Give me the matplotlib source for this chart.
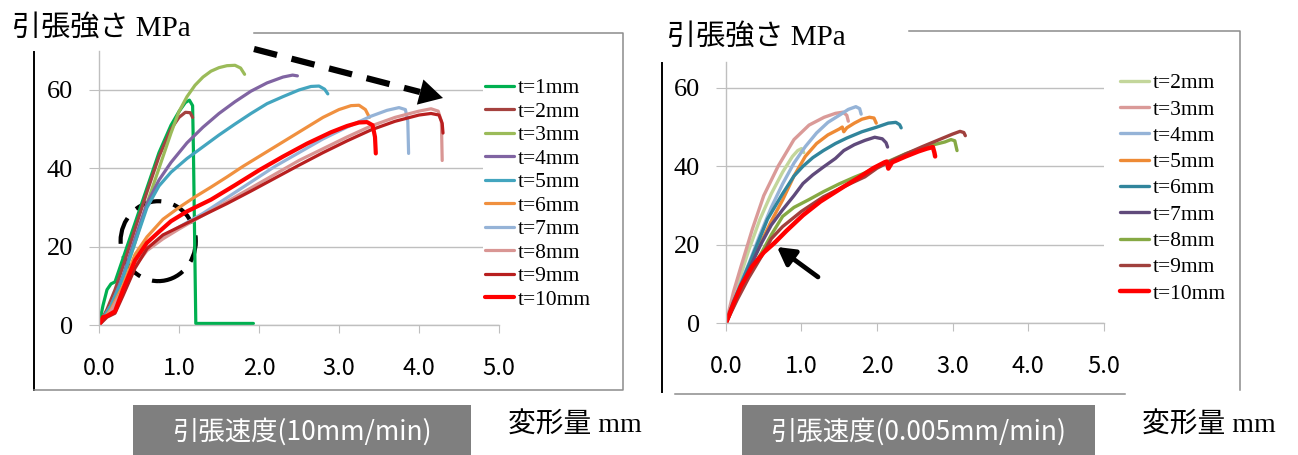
import matplotlib
matplotlib.use('Agg')
import matplotlib.pyplot as plt
from matplotlib.lines import Line2D
from matplotlib.patches import Rectangle, Ellipse, FancyArrowPatch

plt.rcParams['font.family'] = ['Liberation Serif', 'Noto Sans CJK JP']

W, H = 1298, 455

# ---- data: 引張速度 10mm/min ----
left_labels = ['t=1mm', 't=2mm', 't=3mm', 't=4mm', 't=5mm',
               't=6mm', 't=7mm', 't=8mm', 't=9mm', 't=10mm']
left_colors = ['#00B050', '#A5423F', '#9BBB59', '#8064A2', '#43A5BF',
               '#F0903F', '#95B3D7', '#D99694', '#B81F1F', '#FF0000']
left_x = [
    [0, 0.05, 0.1, 0.15, 0.2, 0.3, 0.45, 0.6, 0.75, 0.9, 1.0, 1.08, 1.13, 1.17, 1.18, 1.21, 1.5, 1.93],
    [0, 0.1, 0.2, 0.3, 0.45, 0.6, 0.75, 0.9, 1.0, 1.08, 1.14, 1.17],
    [0, 0.15, 0.3, 0.45, 0.6, 0.75, 0.9, 1.0, 1.1, 1.2, 1.3, 1.4, 1.5, 1.6, 1.7, 1.77, 1.82],
    [0, 0.15, 0.3, 0.45, 0.6, 0.75, 0.9, 1.1, 1.3, 1.5, 1.7, 1.9, 2.1, 2.3, 2.42, 2.48],
    [0, 0.15, 0.3, 0.45, 0.6, 0.75, 0.9, 1.1, 1.3, 1.5, 1.7, 1.9, 2.1, 2.3, 2.5, 2.65, 2.75, 2.82, 2.86],
    [0, 0.15, 0.3, 0.45, 0.6, 0.8, 1.0, 1.2, 1.4, 1.6, 1.8, 2.0, 2.2, 2.4, 2.6, 2.8, 3.0, 3.15, 3.25, 3.33, 3.38],
    [0, 0.15, 0.3, 0.45, 0.6, 0.8, 1.0, 1.3, 1.6, 1.9, 2.2, 2.5, 2.8, 3.1, 3.4, 3.6, 3.75, 3.83, 3.86, 3.87],
    [0, 0.15, 0.3, 0.45, 0.6, 0.8, 1.0, 1.3, 1.6, 1.9, 2.2, 2.5, 2.8, 3.1, 3.4, 3.7, 4.0, 4.15, 4.24, 4.28, 4.29],
    [0, 0.1, 0.2, 0.3, 0.45, 0.6, 0.8, 1.0, 1.3, 1.6, 1.9, 2.2, 2.5, 2.8, 3.1, 3.4, 3.7, 4.0, 4.15, 4.25, 4.29, 4.3],
    [0, 0.05, 0.1, 0.2, 0.3, 0.45, 0.6, 0.75, 0.9, 1.1, 1.4, 1.7, 2.0, 2.3, 2.6, 2.9, 3.1, 3.25, 3.35, 3.42, 3.45, 3.46],
]
left_y = [
    [0, 5, 9, 10.5, 11, 17, 26, 35, 44, 51, 54.5, 56.8, 57.4, 56, 45, 0.4, 0.4, 0.4],
    [0, 4, 9, 15, 24.5, 34, 43, 50, 53, 54.3, 54.2, 53],
    [0, 5, 12, 21, 31, 40, 49, 54.5, 58.3, 61.2, 63.3, 64.8, 65.7, 66.2, 66.3, 65.6, 64],
    [0, 5, 12.5, 22, 31, 37, 41.5, 46.5, 50.5, 54, 57, 59.7, 61.8, 63.3, 63.8, 63.6],
    [0, 5, 12, 21, 30, 35.5, 39, 42.5, 45.5, 48.5, 51.3, 54, 56.5, 58.3, 60, 60.9, 61, 60.2, 59],
    [0, 4, 10, 18, 22.5, 27, 30, 32.7, 35.2, 37.8, 40.5, 43, 45.5, 48, 50.5, 53, 55, 56, 56.1, 55, 53],
    [0, 3.5, 9, 15.5, 19.5, 22.5, 25, 28.5, 32.5, 36.5, 40.5, 44, 47.5, 50.5, 53.3, 54.8, 55.5, 55, 52, 43.8],
    [0, 3.5, 9, 15, 19, 22, 24.5, 28, 31.5, 35, 38.5, 42, 45, 48, 50.8, 53, 54.6, 55.2, 54.6, 52, 42],
    [0, 2, 3, 7.5, 14.5, 19.5, 23, 25, 28, 31, 34.2, 37.5, 40.8, 44, 47, 49.8, 52, 53.6, 54, 53.6, 51.5, 49],
    [0, 2, 2.3, 3.5, 9, 16.5, 21, 23.8, 26.5, 29, 32, 35.7, 39.5, 43, 46.3, 49.2, 50.8, 51.7, 51.8, 51, 48, 43.8],
]

# ---- data: 引張速度 0.005mm/min ----
right_labels = ['t=2mm', 't=3mm', 't=4mm', 't=5mm', 't=6mm',
                't=7mm', 't=8mm', 't=9mm', 't=10mm']
right_colors = ['#C3D69B', '#DA9A98', '#95B3D7', '#EE8A35', '#31859C',
                '#604A7B', '#86A944', '#A0403D', '#FF0000']
right_x = [
    [0, 0.1, 0.2, 0.3, 0.45, 0.6, 0.75, 0.88, 0.95, 1.0, 1.03],
    [0, 0.1, 0.2, 0.35, 0.5, 0.69, 0.9, 1.1, 1.3, 1.45, 1.55, 1.6, 1.62],
    [0, 0.1, 0.2, 0.31, 0.45, 0.6, 0.75, 0.9, 1.05, 1.2, 1.35, 1.5, 1.62, 1.72, 1.77, 1.79],
    [0, 0.15, 0.3, 0.45, 0.6, 0.75, 0.9, 1.05, 1.2, 1.35, 1.5, 1.54, 1.56, 1.6, 1.7, 1.8, 1.9, 1.96, 1.99],
    [0, 0.1, 0.2, 0.37, 0.55, 0.75, 0.9, 1.02, 1.15, 1.29, 1.45, 1.6, 1.8, 2.0, 2.15, 2.25, 2.3, 2.32],
    [0, 0.15, 0.3, 0.47, 0.6, 0.75, 0.9, 1.02, 1.15, 1.29, 1.45, 1.56, 1.7, 1.84, 1.97, 2.07, 2.12, 2.14],
    [0, 0.15, 0.3, 0.47, 0.6, 0.75, 0.9, 1.1, 1.29, 1.5, 1.7, 1.84, 2.1, 2.38, 2.65, 2.9, 2.98, 3.03, 3.06],
    [0, 0.15, 0.3, 0.47, 0.6, 0.75, 1.0, 1.29, 1.56, 1.84, 2.0, 2.2, 2.4, 2.6, 2.8, 3.0, 3.1, 3.15, 3.17],
    [0, 0.1, 0.2, 0.35, 0.5, 0.64, 0.8, 1.02, 1.25, 1.56, 1.75, 1.95, 2.1, 2.13, 2.15, 2.2, 2.38, 2.55, 2.66, 2.74, 2.76, 2.77],
]
right_y = [
    [0, 6, 12.5, 18.5, 26.5, 33, 38.5, 42.5, 44, 44.5, 43.5],
    [0, 8, 14.5, 24, 32.5, 40, 46.8, 50.5, 52.5, 53.5, 53.8, 53, 51.5],
    [0, 5.5, 10.5, 15.5, 22.5, 29.5, 35.5, 40.8, 45, 48.5, 51.2, 53, 54.5, 55.2, 54.7, 53.3],
    [0, 7, 13.5, 20, 26, 31.4, 37.5, 42.5, 45.8, 48, 49.5, 50, 48.8, 49.8, 51, 52, 52.5, 52.3, 51],
    [0, 5.5, 10, 18, 26.5, 33, 37.5, 40, 42.2, 44, 45.8, 47.2, 48.8, 50, 51, 51.2, 50.6, 49.8],
    [0, 7, 13.5, 20.4, 25, 28.9, 32.5, 35.6, 37.8, 39.8, 42, 44, 45.5, 46.6, 47.4, 47, 46, 44.9],
    [0, 6.5, 12.5, 17.9, 22.5, 27.2, 29.5, 31.5, 33.5, 35.5, 37.2, 38.3, 40.8, 43.2, 45, 46.2, 46.8, 46.5, 44],
    [0, 6, 11.5, 17, 21.5, 24.6, 28.5, 32.2, 34.8, 37.3, 39.5, 41.5, 43.3, 45, 46.6, 48.2, 48.9, 48.6, 47.8],
    [0, 5, 9.5, 14.5, 18, 20.4, 23.5, 27.5, 31, 34.8, 37, 39.5, 41, 41.2, 39.4, 41, 42.5, 43.8, 44.5, 44.9, 43.5, 42.5],
]

xticks = [0, 1, 2, 3, 4, 5]
xtick_labels = ['0.0', '1.0', '2.0', '3.0', '4.0', '5.0']
yticks = [0, 20, 40, 60]
ytick_labels = ['0', '20', '40', '60']


def fx(px):
    return px / W


def fy(py):
    return 1 - py / H


fig = plt.figure(figsize=(W / 100, H / 100), dpi=100)

axL = fig.add_axes([fx(99), fy(325), 400 / W, 274.2 / H])
axR = fig.add_axes([fx(726), fy(323), 377.5 / W, 261 / H])

grid_c = '#BFBFBF'
for ax, ytop in [(axL, 70), (axR, 66.6)]:
    ax.set_xlim(0, 5)
    ax.set_ylim(0, ytop)
    for s in ['top', 'right']:
        ax.spines[s].set_visible(False)
    for s in ['left', 'bottom']:
        ax.spines[s].set_color(grid_c)
        ax.spines[s].set_linewidth(1)
    ax.set_xticks(xticks, labels=xtick_labels, fontsize=17, fontfamily='Noto Sans CJK JP')
    ax.set_yticks(yticks, labels=ytick_labels, fontsize=19, fontfamily='Liberation Serif')
    ax.tick_params(axis='y', length=7.2, color=grid_c, pad=11.5)
    ax.tick_params(axis='x', length=5.8, color=grid_c, pad=17)
    ax.grid(axis='y', color=grid_c, lw=1)
    ax.set_axisbelow(True)

for xs, ys, c, lab in zip(left_x, left_y, left_colors, left_labels):
    lw = 3.0 if lab == 't=10mm' else 2.3
    axL.plot(xs, ys, color=c, lw=lw, label=lab, solid_joinstyle='round', solid_capstyle='round')

for xs, ys, c, lab in zip(right_x, right_y, right_colors, right_labels):
    lw = 3.2 if lab == 't=10mm' else 2.4
    axR.plot(xs, ys, color=c, lw=lw, label=lab, solid_joinstyle='round', solid_capstyle='round')

leg_kw = dict(loc='upper left', bbox_transform=fig.transFigure, frameon=True,
              facecolor='white', edgecolor='none', framealpha=1, fancybox=False,
              borderpad=0.1, borderaxespad=0, handlelength=1.35, handletextpad=0.15,
              prop={'family': 'Liberation Serif', 'size': 15.5})
axL.legend(bbox_to_anchor=(fx(483), fy(76)), labelspacing=0.16, **leg_kw)
axR.legend(bbox_to_anchor=(fx(1118), fy(71)), labelspacing=0.29, **leg_kw)

# panel titles
title_font = ['Liberation Serif', 'Noto Sans CJK JP']
fig.text(fx(12), fy(28), '引張強さ MPa', ha='left', va='center', fontsize=21, family=title_font)
fig.text(fx(667), fy(37), '引張強さ MPa', ha='left', va='center', fontsize=21, family=title_font)

# frames round each panel
def frame_line(xs, ys, color, lw):
    fig.add_artist(Line2D([fx(v) for v in xs], [fy(v) for v in ys],
                          transform=fig.transFigure, color=color, lw=lw))

frame_line([34, 34], [52, 390], 'black', 1.4)
frame_line([34, 623, 623, 254], [390, 390, 33, 33], '#8C8C8C', 1.1)
frame_line([662, 662], [63, 392], 'black', 1.4)
frame_line([675, 1125], [394, 394], '#8C8C8C', 1.1)
frame_line([909, 1240, 1240], [31, 31, 390], '#8C8C8C', 1.1)

# bottom labels
for x0, x1, txt in [(133, 471, '引張速度(10mm/min)'), (742, 1095, '引張速度(0.005mm/min)')]:
    fig.add_artist(Rectangle((fx(x0), 0), (x1 - x0) / W, 50 / H, transform=fig.transFigure,
                             facecolor='#7F7F7F', edgecolor='none'))
    fig.text(fx((x0 + x1) / 2), fy(432), txt, ha='center', va='center', color='white',
             fontsize=19, family='Noto Sans CJK JP')
fig.text(fx(508), fy(425), '変形量 mm', ha='left', va='center', fontsize=20, family=title_font)
fig.text(fx(1142), fy(425), '変形量 mm', ha='left', va='center', fontsize=20, family=title_font)

# annotations
fig.add_artist(Line2D([fx(254), fx(420)], [fy(49), fy(92)], transform=fig.transFigure,
                      color='black', lw=4.5, ls=(0, (3.8, 2.4))))
fig.add_artist(FancyArrowPatch((fx(418), fy(91.5)), (fx(443), fy(98)), transform=fig.transFigure,
                               arrowstyle='-|>,head_length=1.0,head_width=0.55', mutation_scale=17,
                               color='black', lw=0, shrinkA=0, shrinkB=0))
axL.add_patch(Ellipse((0.74, 21.4), 0.94, 20.4, fill=False, ec='black', lw=3,
                      ls=(0, (6.5, 3)), clip_on=False))
fig.add_artist(FancyArrowPatch((fx(818), fy(277)), (fx(777), fy(247)), transform=fig.transFigure,
                               arrowstyle='-|>,head_length=0.8,head_width=0.45', mutation_scale=13,
                               color='black', lw=3.4, shrinkA=0, shrinkB=0))

fig.savefig('out.png', dpi=100)
